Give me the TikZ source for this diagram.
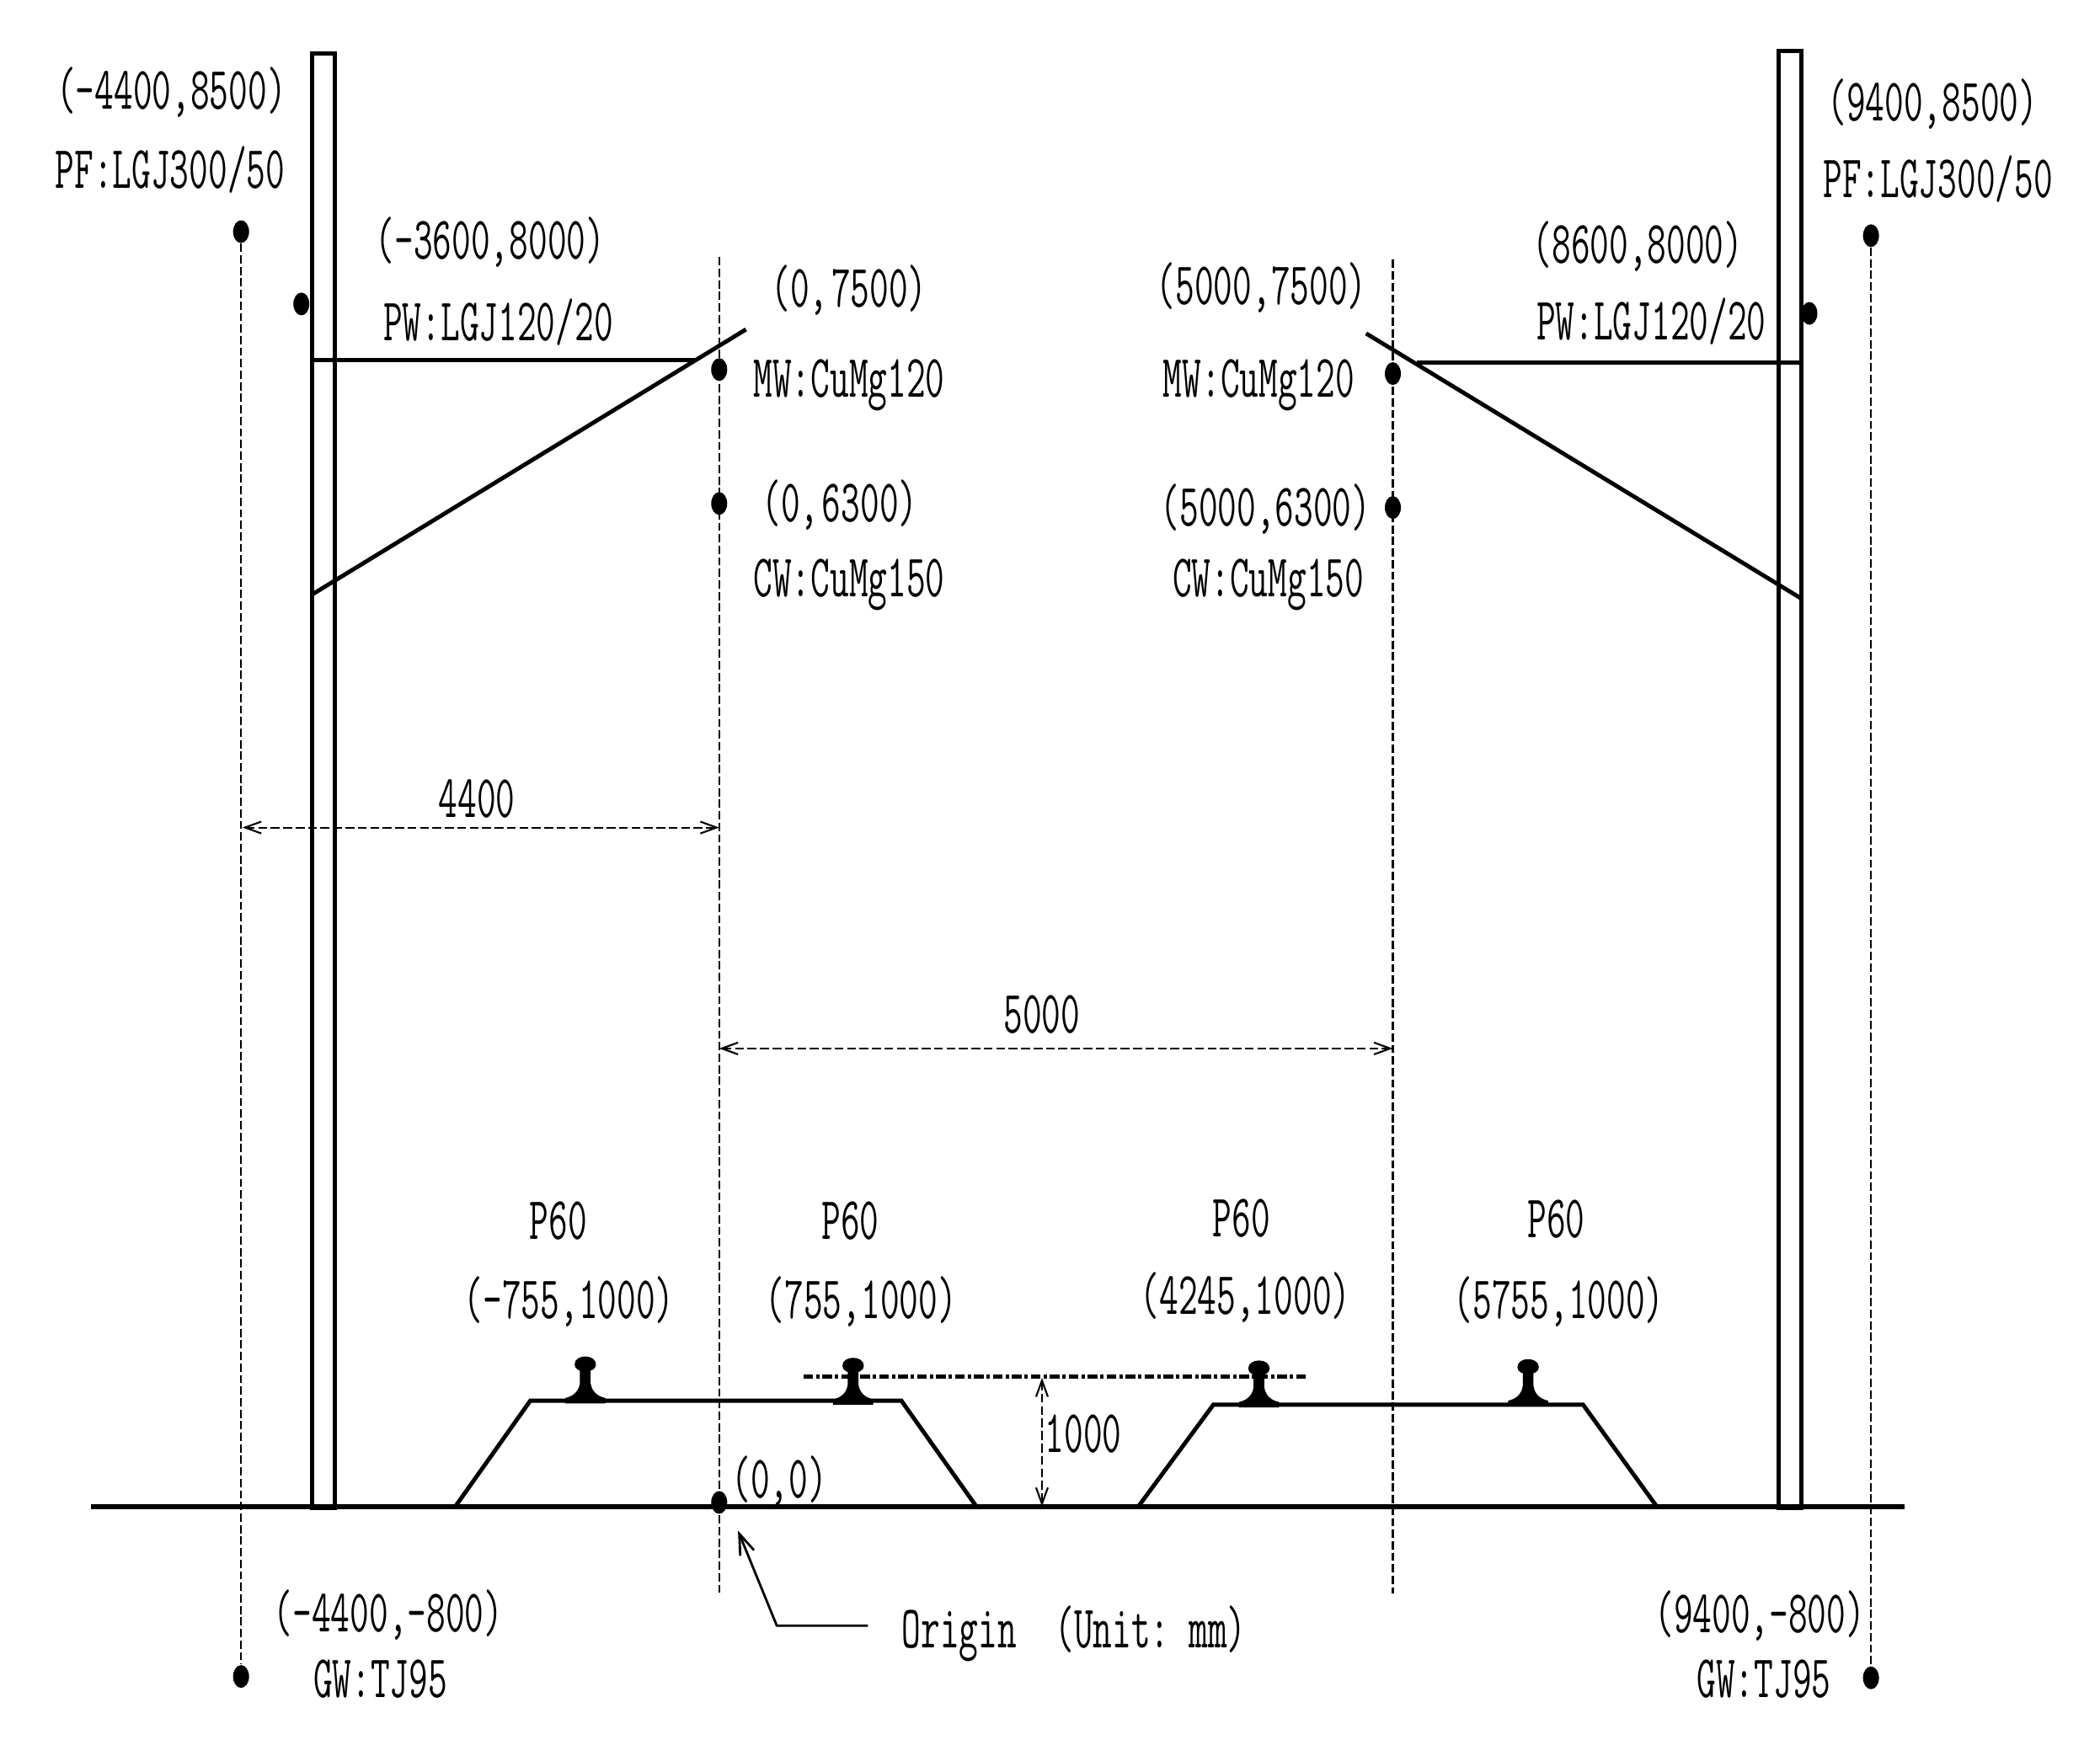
\documentclass[tikz,border=0pt]{standalone}
\usepackage{fontspec}
\setmainfont{Latin Modern Mono}[FakeStretch=0.615]
\usetikzlibrary{arrows.meta}
\usetikzlibrary{shapes.geometric}

\tikzset{
  wire/.style={line width=1.4pt},
  thinline/.style={line width=0.6pt},
  guide/.style={thinline, dash pattern=on 2.8pt off 1.1pt},
  dimline/.style={thinline, dash pattern=on 3pt off 1.2pt, {Straight Barb[length=5.5pt,width=4pt]}-{Straight Barb[length=5.5pt,width=4pt]}},
  dot/.style={draw=none, fill=black, ellipse, minimum width=0.19cm, minimum height=0.27cm, inner sep=0pt},
  lbl/.style={font=\fontsize{20.4pt}{22pt}\selectfont, inner sep=0pt, text height=12.2pt, text depth=0pt},
  tightlbl/.style={lbl, execute at begin node={\spaceskip=1pt\relax}},
  rail/.pic={
    \fill (-15, 2) -- (15, 2) -- (15, -2) .. controls (10, -3) and (5, -6) .. (4, -13)
      -- (4, -24) -- (-4, -24) -- (-4, -13) .. controls (-5, -6) and (-10, -3) .. (-15, -2) -- cycle;
    \fill (-8, -27) .. controls (-8, -35) and (8, -35) .. (8, -27) .. controls (8, -20) and (-8, -20) .. (-8, -27) -- cycle;
  }
}

\begin{document}
\begin{tikzpicture}[x=0.0159cm, y=-0.0159cm]
  \useasboundingbox (0, 0) rectangle (1568, 1311);

  % masts and ground
  \draw[wire] (233, 40) rectangle (250, 1126);
  \draw[wire] (1328, 38) rectangle (1345, 1126);
  \draw[line width=1.8pt] (68, 1125) -- (1422, 1125);

  % cantilevers
  \draw[wire] (233, 444) -- (557, 246);
  \draw[wire] (233, 269) -- (520, 269);
  \draw[wire] (1020, 249) -- (1345, 447);
  \draw[wire] (1058, 271) -- (1345, 271);

  % wires
  \node[dot] (pfL) at (180, 173) {};
  \node[dot] (pwL) at (225, 227) {};
  \node[dot] (mwL) at (537, 276) {};
  \node[dot] (cwL) at (537, 376) {};
  \node[dot] (mwR) at (1040, 279) {};
  \node[dot] (cwR) at (1040, 379) {};
  \node[dot] (pwR) at (1351, 234) {};
  \node[dot] (pfR) at (1397, 176) {};
  \node[dot] (gwL) at (180, 1252) {};
  \node[dot] (gwR) at (1397, 1253) {};
  \node[dot] (origin) at (537, 1122) {};

  % centre lines
  \coordinate (topL) at (537, 192);
  \coordinate (botL) at (537, 1190);
  \coordinate (topR) at (1040, 194);
  \coordinate (botR) at (1040, 1190);
  \draw[guide] (pfL) -- (gwL);
  \draw[guide] (pfR) -- (gwR);
  \draw[guide] (topL) -- (botL);
  \draw[guide] (topR) -- (botR);

  % roadbed
  \draw[wire] (340, 1125) -- (396, 1046) -- (673, 1046) -- (729, 1125);
  \draw[wire] (850, 1125) -- (906, 1049) -- (1182, 1049) -- (1237, 1125);
  \pic at (437, 1046) {rail};
  \pic at (637, 1047) {rail};
  \pic at (940, 1049) {rail};
  \pic at (1141, 1048) {rail};
  \draw[line width=1.2pt, dash pattern=on 3.2pt off 1pt on 1.2pt off 1pt] (600, 1028) -- (976, 1028);

  % dimensions
  \coordinate (dimA) at (181, 618);
  \coordinate (dimB) at (537, 618);
  \coordinate (dimC) at (537, 783);
  \coordinate (dimD) at (1040, 783);
  \coordinate (dimE) at (778, 1029);
  \coordinate (dimF) at (778, 1125);
  \draw[dimline] (dimA) -- (dimB);
  \draw[dimline] (dimC) -- (dimD);
  \draw[dimline] (dimE) -- (dimF);
  \node[lbl] (d4400) at (356, 597) {4400};
  \node[lbl] (d5000) at (778, 758) {5000};
  \node[lbl] (d1000) at (809, 1071) {1000};

  % origin leader
  \coordinate (leadEnd) at (648, 1214);
  \coordinate (leadKnee) at (580, 1214);
  \coordinate (leadTip) at (551, 1143);
  \draw[thinline, line width=0.8pt, -{Straight Barb[length=7pt,width=5pt]}] (leadEnd) -- (leadKnee) -- (leadTip);
  \node[lbl, anchor=west] (originText) at (673, 1217) {Origin\ \ (Unit:\ mm)};

  % labels
  \node[lbl] (a1) at (128, 68) {(-4400,8500)};
  \node[lbl] (a2) at (127, 127) {PF:LGJ300/50};
  \node[lbl] (b1) at (366, 180) {(-3600,8000)};
  \node[lbl] (b2) at (372, 241) {PW:LGJ120/20};
  \node[tightlbl] (c1) at (634, 216) {(0, 7500)};
  \node[lbl] (c2) at (634, 283) {MW:CuMg120};
  \node[tightlbl] (c3) at (627, 376) {(0, 6300)};
  \node[lbl] (c4) at (634, 432) {CW:CuMg150};
  \node[lbl] (e1) at (942, 214) {(5000,7500)};
  \node[lbl] (e2) at (940, 283) {MW:CuMg120};
  \node[lbl] (e3) at (945, 379) {(5000,6300)};
  \node[lbl] (e4) at (947, 432) {CW:CuMg150};
  \node[lbl] (f1) at (1223, 183) {(8600,8000)};
  \node[lbl] (f2) at (1233, 240) {PW:LGJ120/20};
  \node[lbl] (g1) at (1443, 77) {(9400,8500)};
  \node[lbl] (g2) at (1447, 134) {PF:LGJ300/50};
  \node[lbl] (p1) at (417, 912) {P60};
  \node[lbl] (p2) at (635, 912) {P60};
  \node[lbl] (p3) at (927, 910) {P60};
  \node[lbl] (p4) at (1162, 911) {P60};
  \node[lbl] (r1) at (425, 971) {(-755,1000)};
  \node[lbl] (r2) at (643, 971) {(755,1000)};
  \node[lbl] (r3) at (930, 968) {(4245,1000)};
  \node[lbl] (r4) at (1164, 971) {(5755,1000)};
  \node[lbl] (o1) at (582, 1105) {(0,0)};
  \node[lbl] (h1) at (290, 1205) {(-4400,-800)};
  \node[lbl] (h2) at (284, 1254) {GW:TJ95};
  \node[lbl] (i1) at (1314, 1206) {(9400,-800)};
  \node[lbl] (i2) at (1317, 1254) {GW:TJ95};
\end{tikzpicture}
\end{document}
